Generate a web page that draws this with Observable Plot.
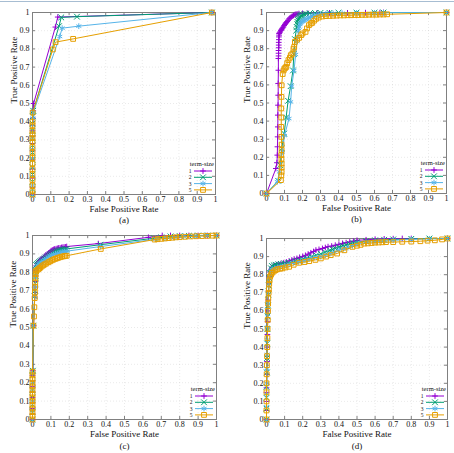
<!DOCTYPE html>
<html><head><meta charset="utf-8">
<script src="https://cdn.jsdelivr.net/npm/d3@7"></script>
<script src="https://cdn.jsdelivr.net/npm/@observablehq/plot@0.6"></script>
<style>
body{margin:0;background:#fff;}
#root{position:relative;width:454px;height:453px;overflow:hidden;background:#fff;font-family:"Liberation Serif",serif;}
#topline{position:absolute;left:0;top:1px;width:454px;height:1px;background:#a7bdd2;}
.panel{position:absolute;}
svg text{font-family:"Liberation Serif",serif;}
</style></head><body>
<div id="root"><div id="topline"></div></div>
<script>
// tick values and labels
const ticks = [0,0.1,0.2,0.3,0.4,0.5,0.6,0.7,0.8,0.9,1];
const tickLabels = ["0","0.1","0.2","0.3","0.4","0.5","0.6","0.7","0.8","0.9","1"];
const seriesNames = ["1","2","3","5"];
const seriesColors = ["#9400d3","#009e73","#56b4e9","#e69f00"];
const seriesSymbols = ["plus","times","asterisk","square"];
const captions = ["(a)","(b)","(c)","(d)"];

// panel (a)
const a1 = [[0,0],[0,0.04],[0,0.09],[0,0.14],[0,0.19],[0,0.24],[0,0.28],[0,0.32],[0,0.35],[0,0.38],[0.002,0.42],[0.004,0.46],[0.006,0.5],[0.125,0.92],[0.138,0.975],[0.98,1]];
const a2 = [[0,0],[0,0.03],[0,0.07],[0,0.11],[0,0.15],[0,0.19],[0,0.23],[0,0.27],[0,0.31],[0,0.35],[0,0.39],[0.002,0.43],[0.004,0.46],[0.145,0.925],[0.157,0.973],[0.243,0.977],[0.98,1]];
const a3 = [[0,0],[0,0.05],[0,0.1],[0,0.15],[0,0.2],[0,0.25],[0,0.3],[0,0.34],[0,0.38],[0.002,0.42],[0.004,0.45],[0.149,0.868],[0.162,0.914],[0.253,0.925],[0.98,1]];
const a5 = [[0,0],[0,0.02],[0,0.05],[0,0.08],[0,0.11],[0,0.14],[0,0.17],[0,0.2],[0,0.23],[0,0.26],[0,0.29],[0,0.31],[0,0.33],[0,0.35],[0,0.38],[0,0.4],[0.001,0.45],[0.111,0.797],[0.126,0.837],[0.222,0.855],[0.98,1]];

// panel (b)
const b1 = [[0,0],[0.052,0.138],[0.058,0.17],[0.06,0.212],[0.061,0.258],[0.062,0.313],[0.063,0.368],[0.063,0.433],[0.064,0.488],[0.065,0.543],[0.065,0.608],[0.066,0.681],[0.066,0.746],[0.067,0.76],[0.067,0.775],[0.067,0.79],[0.068,0.805],[0.068,0.82],[0.068,0.835],[0.069,0.85],[0.069,0.865],[0.07,0.875],[0.07,0.884],[0.073,0.888],[0.076,0.893],[0.08,0.9],[0.083,0.905],[0.086,0.91],[0.09,0.915],[0.094,0.92],[0.098,0.928],[0.102,0.934],[0.106,0.94],[0.11,0.945],[0.115,0.95],[0.12,0.957],[0.126,0.965],[0.131,0.97],[0.137,0.975],[0.143,0.98],[0.15,0.984],[0.157,0.988],[0.163,0.99],[0.17,0.992],[0.18,0.994],[0.2,0.995],[0.23,0.996],[0.28,0.997],[0.35,0.998],[0.45,0.998],[0.55,0.999],[0.63,0.999],[0.65,1],[1,1]];
const b2 = [[0,0],[0.065,0.07],[0.076,0.157],[0.085,0.249],[0.098,0.331],[0.109,0.42],[0.12,0.512],[0.134,0.593],[0.147,0.68],[0.152,0.77],[0.158,0.853],[0.165,0.9],[0.168,0.92],[0.171,0.935],[0.172,0.948],[0.175,0.958],[0.178,0.965],[0.182,0.972],[0.186,0.977],[0.19,0.981],[0.195,0.984],[0.2,0.987],[0.21,0.99],[0.22,0.993],[0.24,0.995],[0.27,0.997],[0.3,0.998],[0.35,0.998],[0.4,0.999],[0.5,0.999],[0.6,0.999],[0.65,1],[1,1]];
const b3 = [[0,0],[0.06,0.065],[0.072,0.12],[0.088,0.23],[0.1,0.32],[0.125,0.414],[0.134,0.506],[0.14,0.593],[0.153,0.68],[0.162,0.768],[0.17,0.84],[0.178,0.9],[0.182,0.92],[0.186,0.935],[0.19,0.942],[0.196,0.948],[0.203,0.953],[0.21,0.958],[0.218,0.962],[0.226,0.966],[0.235,0.97],[0.245,0.975],[0.255,0.979],[0.265,0.982],[0.28,0.986],[0.3,0.99],[0.33,0.992],[0.37,0.994],[0.42,0.996],[0.5,0.997],[0.6,0.998],[0.65,0.999],[1,1]];
const b5 = [[0,0],[0.08,0.074],[0.082,0.1],[0.084,0.12],[0.084,0.143],[0.084,0.166],[0.083,0.19],[0.082,0.212],[0.084,0.24],[0.084,0.27],[0.083,0.313],[0.082,0.368],[0.082,0.42],[0.082,0.47],[0.083,0.534],[0.084,0.598],[0.09,0.66],[0.095,0.68],[0.1,0.69],[0.105,0.695],[0.11,0.7],[0.115,0.72],[0.122,0.737],[0.13,0.75],[0.135,0.764],[0.144,0.773],[0.15,0.8],[0.154,0.81],[0.158,0.838],[0.17,0.85],[0.181,0.86],[0.193,0.875],[0.2,0.884],[0.217,0.893],[0.225,0.912],[0.236,0.93],[0.246,0.939],[0.254,0.943],[0.265,0.955],[0.275,0.965],[0.29,0.972],[0.31,0.978],[0.33,0.98],[0.35,0.981],[0.37,0.982],[0.39,0.983],[0.41,0.984],[0.43,0.984],[0.45,0.985],[0.47,0.985],[0.49,0.986],[0.51,0.986],[0.53,0.987],[0.55,0.987],[0.57,0.988],[0.59,0.988],[0.61,0.988],[0.63,0.989],[0.65,0.989],[0.67,0.99],[1,1]];

// panel (c)
const c1 = [[0,0],[0,0.03],[0,0.06],[0,0.09],[0,0.12],[0,0.15],[0,0.18],[0,0.21],[0,0.24],[0.002,0.265],[0.006,0.51],[0.012,0.665],[0.014,0.69],[0.015,0.72],[0.016,0.75],[0.017,0.78],[0.018,0.81],[0.02,0.835],[0.025,0.846],[0.03,0.853],[0.035,0.86],[0.04,0.865],[0.046,0.87],[0.051,0.873],[0.058,0.88],[0.065,0.885],[0.072,0.893],[0.08,0.9],[0.088,0.905],[0.095,0.91],[0.1,0.915],[0.105,0.918],[0.11,0.921],[0.115,0.924],[0.12,0.926],[0.128,0.928],[0.135,0.93],[0.142,0.932],[0.15,0.933],[0.158,0.935],[0.165,0.936],[0.172,0.937],[0.18,0.938],[0.186,0.94],[0.358,0.956],[0.63,0.99],[0.705,1],[0.75,1],[0.8,1],[0.85,1],[0.9,1],[0.95,1],[1,1]];
const c2 = [[0,0],[0,0.04],[0,0.08],[0,0.12],[0,0.16],[0,0.2],[0,0.24],[0.002,0.265],[0.005,0.51],[0.012,0.67],[0.014,0.7],[0.016,0.74],[0.017,0.78],[0.018,0.81],[0.02,0.84],[0.025,0.845],[0.03,0.85],[0.036,0.855],[0.042,0.86],[0.05,0.865],[0.058,0.87],[0.065,0.875],[0.072,0.88],[0.08,0.885],[0.088,0.89],[0.095,0.895],[0.102,0.9],[0.11,0.905],[0.118,0.908],[0.125,0.912],[0.133,0.915],[0.14,0.917],[0.148,0.919],[0.155,0.92],[0.163,0.922],[0.17,0.924],[0.178,0.925],[0.185,0.927],[0.37,0.95],[0.66,0.985],[0.7,0.99],[0.75,0.995],[0.8,0.997],[0.85,0.998],[0.9,1],[0.95,1],[1,1]];
const c3 = [[0,0],[0,0.05],[0,0.1],[0,0.15],[0,0.2],[0,0.25],[0.004,0.51],[0.012,0.67],[0.015,0.72],[0.017,0.77],[0.019,0.81],[0.022,0.83],[0.028,0.838],[0.035,0.845],[0.042,0.85],[0.05,0.855],[0.058,0.862],[0.066,0.868],[0.075,0.875],[0.085,0.882],[0.095,0.888],[0.105,0.893],[0.115,0.897],[0.125,0.9],[0.135,0.903],[0.145,0.906],[0.155,0.909],[0.165,0.911],[0.175,0.913],[0.188,0.915],[0.37,0.94],[0.67,0.98],[0.72,0.985],[0.77,0.99],[0.82,0.995],[0.88,0.998],[0.94,1],[1,1]];
const c5 = [[0,0],[0,0.02],[0,0.04],[0,0.06],[0,0.08],[0,0.1],[0,0.12],[0,0.14],[0,0.16],[0,0.18],[0,0.2],[0,0.22],[0,0.24],[0,0.26],[0.005,0.51],[0.008,0.56],[0.01,0.61],[0.012,0.66],[0.013,0.69],[0.014,0.72],[0.015,0.745],[0.016,0.77],[0.017,0.79],[0.018,0.805],[0.022,0.81],[0.03,0.815],[0.036,0.82],[0.042,0.825],[0.05,0.832],[0.058,0.838],[0.066,0.843],[0.075,0.848],[0.087,0.855],[0.096,0.86],[0.105,0.865],[0.114,0.869],[0.123,0.873],[0.132,0.876],[0.14,0.879],[0.15,0.882],[0.16,0.885],[0.17,0.887],[0.178,0.889],[0.186,0.89],[0.371,0.927],[0.664,0.978],[0.68,0.98],[0.7,0.982],[0.72,0.984],[0.74,0.986],[0.76,0.988],[0.78,0.99],[0.8,0.991],[0.83,0.993],[0.86,0.995],[0.89,0.996],[0.92,0.997],[0.95,0.998],[0.98,0.999],[1,1]];

// panel (d)
const d1 = [[0,0],[0,0.05],[0,0.1],[0,0.15],[0,0.175],[0.002,0.25],[0.003,0.32],[0.004,0.4],[0.005,0.47],[0.006,0.54],[0.007,0.6],[0.009,0.66],[0.011,0.71],[0.013,0.75],[0.016,0.79],[0.02,0.815],[0.025,0.83],[0.03,0.84],[0.038,0.847],[0.045,0.851],[0.055,0.855],[0.065,0.858],[0.08,0.862],[0.095,0.866],[0.11,0.87],[0.125,0.876],[0.14,0.881],[0.153,0.886],[0.168,0.89],[0.183,0.896],[0.2,0.901],[0.215,0.907],[0.23,0.914],[0.245,0.921],[0.26,0.928],[0.273,0.936],[0.29,0.94],[0.309,0.945],[0.325,0.95],[0.34,0.955],[0.36,0.958],[0.38,0.963],[0.4,0.968],[0.42,0.973],[0.44,0.977],[0.46,0.981],[0.48,0.985],[0.5,0.99],[0.55,0.993],[0.6,0.996],[0.65,0.998],[0.7,0.999],[0.75,1],[0.8,1],[1,1]];
const d2 = [[0,0],[0,0.06],[0,0.12],[0,0.18],[0.002,0.26],[0.003,0.34],[0.004,0.42],[0.005,0.5],[0.006,0.57],[0.008,0.63],[0.01,0.69],[0.012,0.74],[0.015,0.78],[0.02,0.81],[0.025,0.835],[0.03,0.848],[0.04,0.852],[0.05,0.855],[0.065,0.857],[0.08,0.86],[0.1,0.863],[0.12,0.866],[0.14,0.871],[0.16,0.876],[0.18,0.88],[0.2,0.886],[0.225,0.893],[0.25,0.9],[0.275,0.908],[0.3,0.915],[0.325,0.925],[0.35,0.935],[0.365,0.94],[0.38,0.945],[0.4,0.952],[0.42,0.96],[0.44,0.965],[0.46,0.97],[0.48,0.975],[0.5,0.98],[0.55,0.985],[0.6,0.99],[0.65,0.993],[0.7,0.995],[0.8,0.998],[0.9,1],[1,1]];
const d3s = [[0,0],[0,0.07],[0,0.14],[0.001,0.2],[0.002,0.28],[0.003,0.36],[0.004,0.44],[0.005,0.51],[0.007,0.58],[0.009,0.64],[0.011,0.69],[0.013,0.74],[0.016,0.78],[0.02,0.805],[0.025,0.82],[0.03,0.83],[0.045,0.835],[0.06,0.84],[0.08,0.845],[0.1,0.85],[0.125,0.857],[0.15,0.865],[0.175,0.87],[0.2,0.875],[0.225,0.882],[0.25,0.89],[0.275,0.895],[0.3,0.9],[0.325,0.907],[0.35,0.915],[0.375,0.925],[0.4,0.935],[0.425,0.943],[0.45,0.95],[0.475,0.96],[0.5,0.97],[0.55,0.978],[0.6,0.982],[0.65,0.985],[0.7,0.99],[0.8,0.995],[0.9,0.998],[1,1]];
const d5 = [[0,0],[0,0.05],[0,0.1],[0,0.15],[0,0.2],[0.001,0.25],[0.002,0.3],[0.003,0.35],[0.004,0.4],[0.005,0.45],[0.006,0.5],[0.007,0.55],[0.008,0.6],[0.009,0.64],[0.01,0.67],[0.012,0.7],[0.013,0.72],[0.015,0.75],[0.017,0.77],[0.02,0.79],[0.025,0.8],[0.03,0.81],[0.04,0.818],[0.05,0.825],[0.06,0.83],[0.075,0.833],[0.088,0.835],[0.105,0.84],[0.125,0.844],[0.15,0.855],[0.18,0.866],[0.21,0.87],[0.236,0.875],[0.27,0.882],[0.3,0.89],[0.33,0.9],[0.355,0.908],[0.39,0.917],[0.43,0.935],[0.475,0.954],[0.5,0.96],[0.52,0.965],[0.54,0.972],[0.56,0.973],[0.58,0.975],[0.6,0.977],[0.62,0.978],[0.64,0.979],[0.66,0.98],[0.7,0.98],[0.75,0.982],[0.8,0.983],[0.85,0.985],[0.89,0.988],[0.93,0.99],[0.97,0.995],[1,1]];

const panelData = [[a1,a2,a3,a5],[b1,b2,b3,b5],[c1,c2,c3,c5],[d1,d2,d3s,d5]];
const layout = [
  {left:0,top:0,w:227,h:226,mL:32,mR:12,mT:12,mB:32,ylx:-18,xly:17,cy:28},
  {left:227,top:0,w:227,h:226,mL:39,mR:8,mT:12,mB:33,ylx:-19,xly:17.5,cy:28.5},
  {left:0,top:226,w:227,h:227,mL:32,mR:11,mT:9,mB:34,ylx:-19,xly:17,cy:29},
  {left:227,top:226,w:227,h:227,mL:39,mR:7,mT:12,mB:34,ylx:-19,xly:17.5,cy:29}
];
const radii = [2.0,2.7,2.7,2.7];
const d3Sym = {plus: d3.symbolPlus, times: d3.symbolTimes, asterisk: d3.symbolAsterisk, square: d3.symbolSquare};
const FONT = '"Liberation Serif", serif';

function legendMark(index, scales, values, dims) {
  const g = d3.create("svg:g").attr("fill", "#111");
  const R = dims.width - dims.marginRight, B = dims.height - dims.marginBottom;
  g.append("text").attr("x", R - 1).attr("y", B - 28).attr("font-size", 6.5).attr("text-anchor", "end").text("term-size");
  seriesNames.forEach((name, i) => {
    const y = B - 23 + i * 6.3;
    g.append("text").attr("x", R - 25).attr("y", y + 2).attr("font-size", 5.5).attr("text-anchor", "middle").text(name);
    g.append("line").attr("x1", R - 21).attr("x2", R - 3).attr("y1", y).attr("y2", y)
      .attr("stroke", seriesColors[i]).attr("stroke-width", 1);
    g.append("path").attr("transform", `translate(${R - 12},${y})`)
      .attr("d", d3.symbol(d3Sym[seriesSymbols[i]], radii[i] * radii[i] * Math.PI)())
      .attr("fill", "none").attr("stroke", seriesColors[i]).attr("stroke-width", 1);
  });
  return g.node();
}

panelData.forEach((series, p) => {
  const L = layout[p];
  const fw = L.w - L.mL - L.mR, fh = L.h - L.mT - L.mB;
  const marks = [
    Plot.gridX(ticks, {stroke: "#bbb", strokeOpacity: 0.3, strokeDasharray: "1,2"}),
    Plot.gridY(ticks, {stroke: "#bbb", strokeOpacity: 0.3, strokeDasharray: "1,2"}),
    Plot.frame({stroke: "#808080"}),
    Plot.tickX(ticks, {x: d => d, stroke: "#808080", insetTop: fh - 3}),
    Plot.tickX(ticks, {x: d => d, stroke: "#808080", insetBottom: fh - 3}),
    Plot.tickY(ticks, {y: d => d, stroke: "#808080", insetRight: fw - 3}),
    Plot.tickY(ticks, {y: d => d, stroke: "#808080", insetLeft: fw - 3}),
    Plot.axisX(ticks, {tickSize: 0, tickPadding: 1.5, tickFormat: d => tickLabels[ticks.indexOf(d)], label: null, fontSize: 8}),
    Plot.axisY(ticks, {tickSize: 0, tickPadding: 3, tickFormat: d => tickLabels[ticks.indexOf(d)], label: null, fontSize: 8}),
  ];
  series.forEach((s, i) => {
    marks.push(Plot.line(s, {x: d => d[0], y: d => d[1], stroke: seriesColors[i], strokeWidth: 1}));
    marks.push(Plot.dot(s, {x: d => d[0], y: d => d[1], symbol: seriesSymbols[i], r: radii[i], stroke: seriesColors[i], fill: "none", strokeWidth: 1}));
  });
  marks.push(legendMark);
  marks.push(Plot.text(["False Positive Rate"], {frameAnchor: "bottom", dy: L.xly, fontSize: 9, fill: "#111"}));
  marks.push(Plot.text(["True Positive Rate"], {frameAnchor: "left", rotate: -90, dx: L.ylx, fontSize: 9, fill: "#111"}));
  marks.push(Plot.text([captions[p]], {frameAnchor: "bottom", dy: L.cy, fontSize: 9, fill: "#111"}));
  const chart = Plot.plot({
    width: L.w, height: L.h,
    marginLeft: L.mL, marginRight: L.mR, marginTop: L.mT, marginBottom: L.mB,
    x: {domain: [0, 1]}, y: {domain: [0, 1]},
    style: {fontFamily: FONT, fontSize: "8px", color: "#111", background: "transparent", overflow: "visible"},
    marks
  });
  const div = document.createElement("div");
  div.className = "panel";
  div.style.left = L.left + "px";
  div.style.top = L.top + "px";
  div.appendChild(chart);
  document.getElementById("root").appendChild(div);
});
</script>
</body></html>
